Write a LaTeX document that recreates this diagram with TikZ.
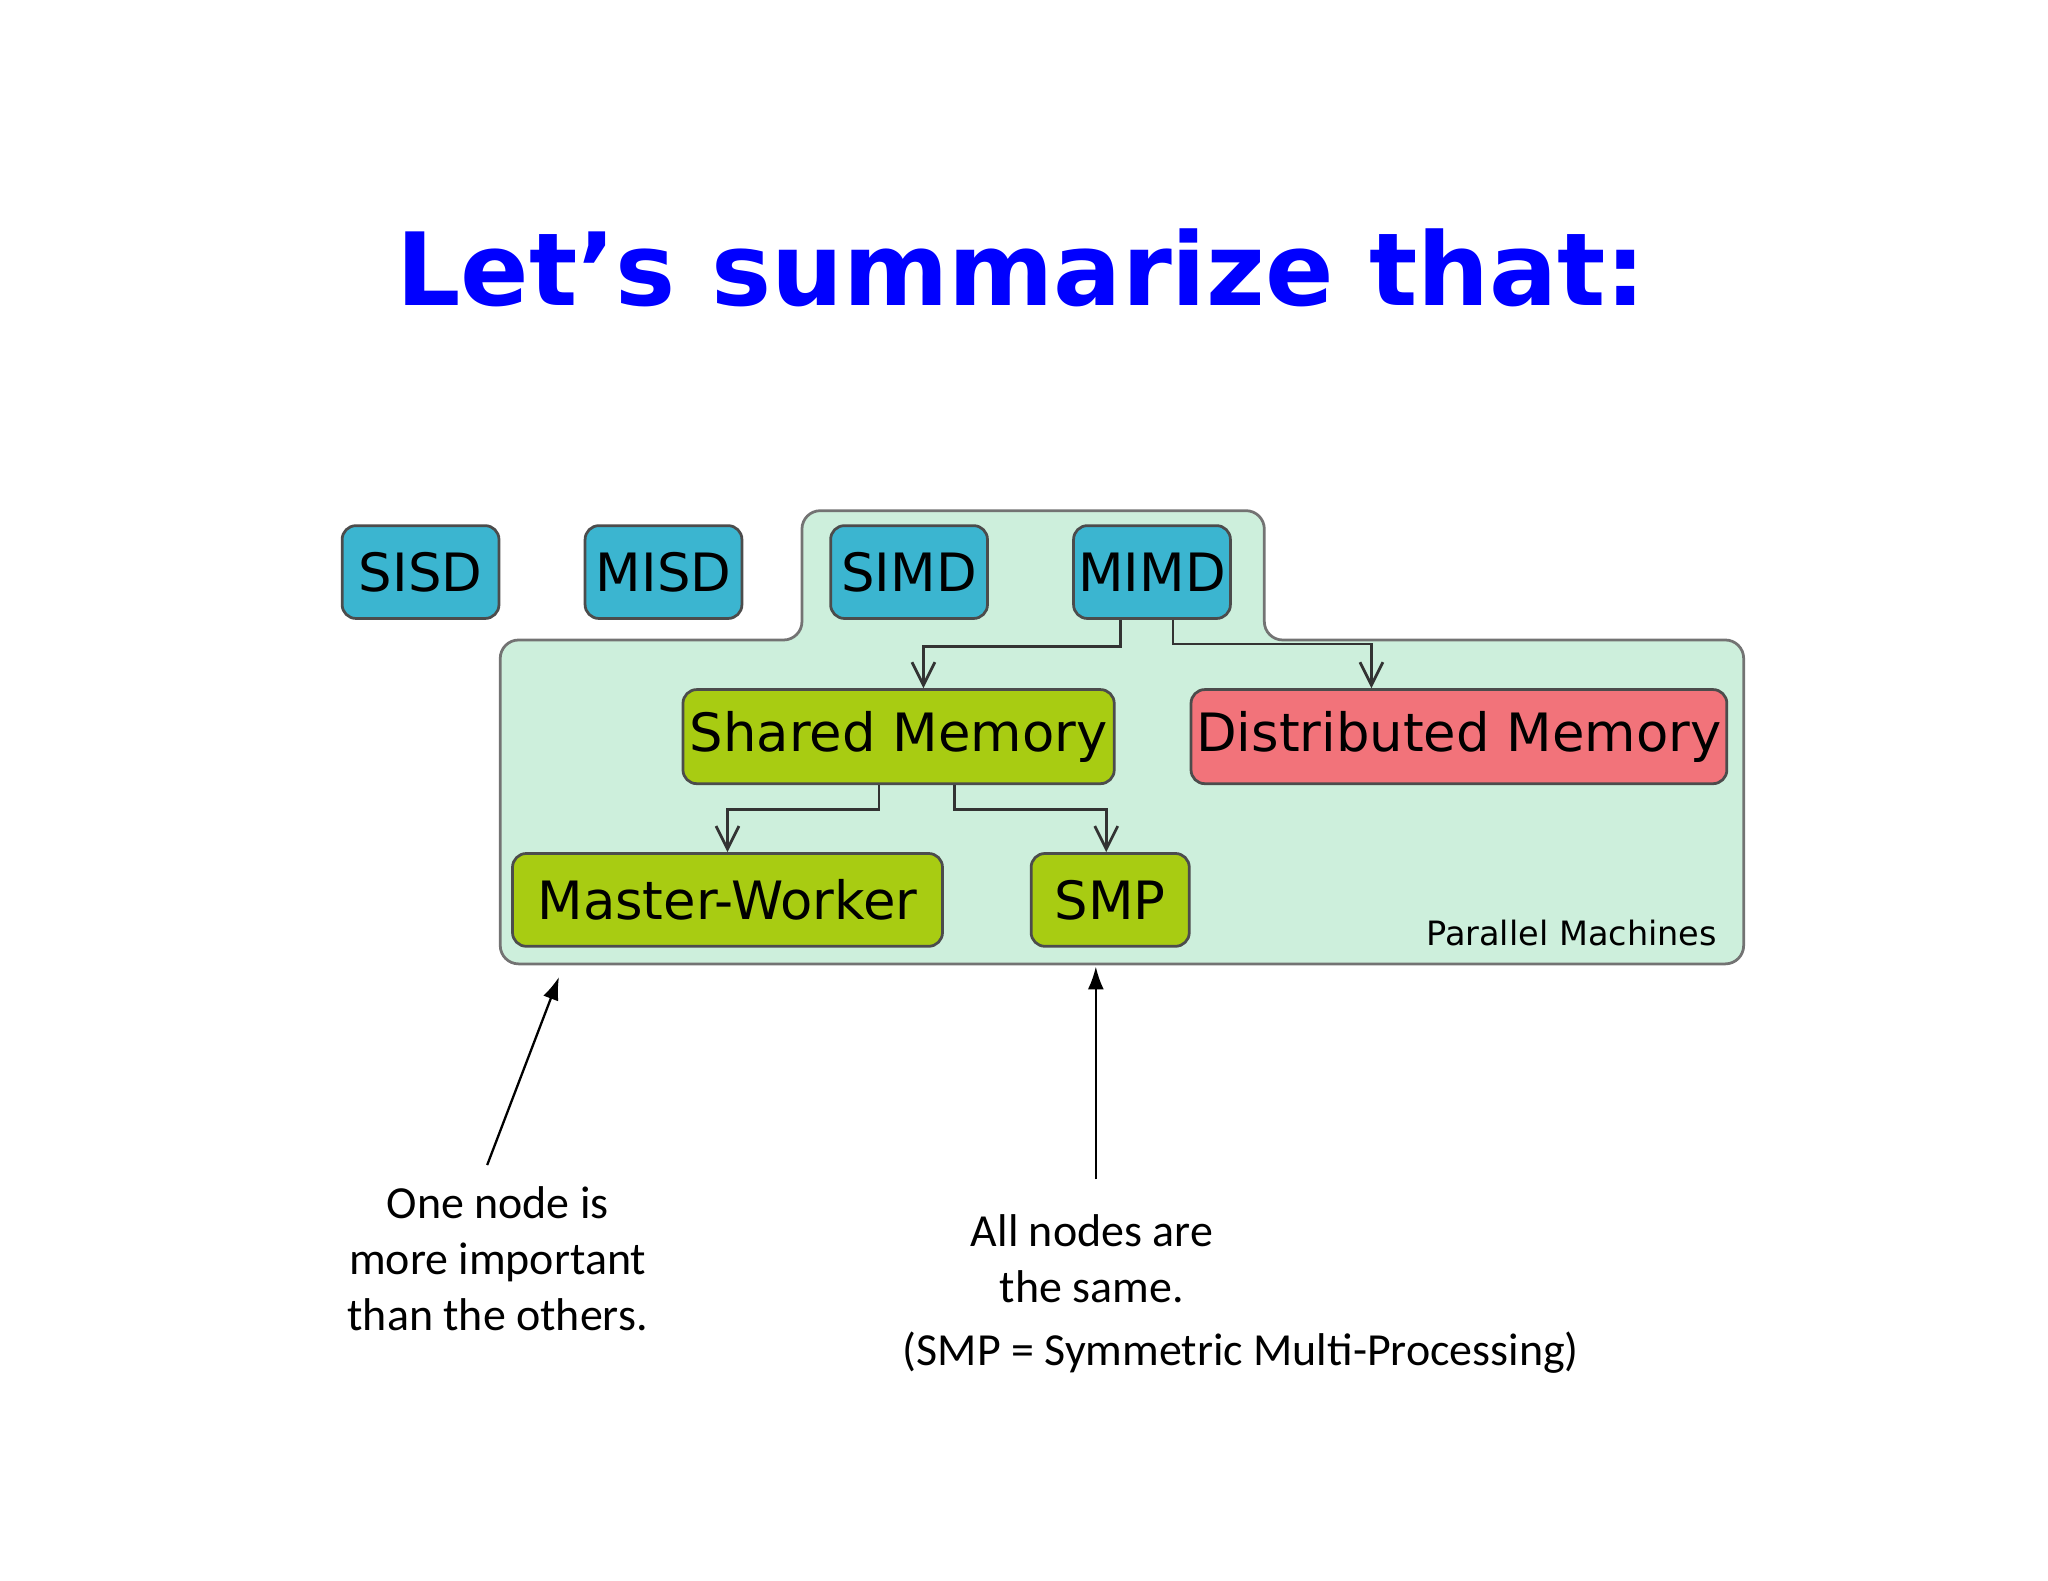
\documentclass[tikz,border=0pt]{standalone}
\usepackage{fontspec}
\setmainfont{Carlito}
\newfontfamily\djvfont{DejaVu Sans}
\usetikzlibrary{arrows.meta}
\definecolor{bluebox}{HTML}{3BB5D0}
\definecolor{greenbox}{HTML}{A8CC12}
\definecolor{redbox}{HTML}{F2737A}
\definecolor{region}{HTML}{CDEFDC}
\begin{document}
\begin{tikzpicture}[x=0.01cm,y=-0.01cm,
 box/.style={draw=black!70,line width=0.6pt,rounded corners=3pt,inner sep=0pt,font=\djvfont\fontsize{11.5}{13}\selectfont},
 conn/.style={line width=0.6pt,draw=black!80,-{Straight Barb[length=5pt,width=5pt]}},
 note/.style={align=center,font=\fontsize{10}{12.2}\selectfont}]
\useasboundingbox (0,0) rectangle (1568,1210);
\node[font=\djvfont\bfseries\fontsize{22}{26}\selectfont,text=blue] (title) at (782,205) {Let’s summarize that:};
\draw[fill=region,draw=black!55,line width=0.6pt,rounded corners=4pt]
 (383,738) -- (383,490) -- (614,490) -- (614,391) -- (968,391) -- (968,490) -- (1335,490) -- (1335,738) -- cycle;
\node[font=\djvfont\fontsize{7.3}{9}\selectfont,anchor=east] (pm) at (1327,714) {Parallel Machines};
\foreach \n/\t/\x in {sisd/SISD/322,misd/MISD/508,simd/SIMD/696,mimd/MIMD/882}
 \node[box,fill=bluebox,minimum width=1.2cm,minimum height=0.71cm] (\n) at (\x,438) {\t};
\node[box,fill=greenbox,minimum width=3.3cm,minimum height=0.72cm] (sm) at (688,564) {Shared Memory};
\node[box,fill=redbox,minimum width=4.1cm,minimum height=0.72cm] (dm) at (1117,564) {Distributed Memory};
\node[box,fill=greenbox,minimum width=3.29cm,minimum height=0.71cm] (mw) at (557,689) {Master-Worker};
\node[box,fill=greenbox,minimum width=1.21cm,minimum height=0.71cm] (smp) at (850,689) {SMP};
\draw[conn] (mimd.south -| 858,0) -- (858,495) -- (707,495) -- (707,0 |- sm.north);
\draw[conn] (mimd.south -| 898,0) -- (898,493) -- (1050,493) -- (1050,0 |- dm.north);
\draw[conn] (sm.south -| 673,0) -- (673,620) -- (557,620) -- (557,0 |- mw.north);
\draw[conn] (sm.south -| 731,0) -- (731,620) -- (847,620) -- (847,0 |- smp.north);
\coordinate (a1) at (373,892); \coordinate (a1e) at (428,748);
\coordinate (a2) at (839,903); \coordinate (a2e) at (839,740);
\draw[line width=0.5pt,-{Latex[length=5pt,width=3.5pt]}] (a1) -- (a1e);
\draw[line width=0.5pt,-{Latex[length=5pt,width=3.5pt]}] (a2) -- (a2e);
\node[note] (n1) at (381,964) {One node is\\more important\\than the others.};
\node[note] (n2) at (836,964) {All nodes are\\the same.};
\node[note] (n3) at (950,1036) {(SMP = Symmetric Multi-Processing)};
\end{tikzpicture}
\end{document}
